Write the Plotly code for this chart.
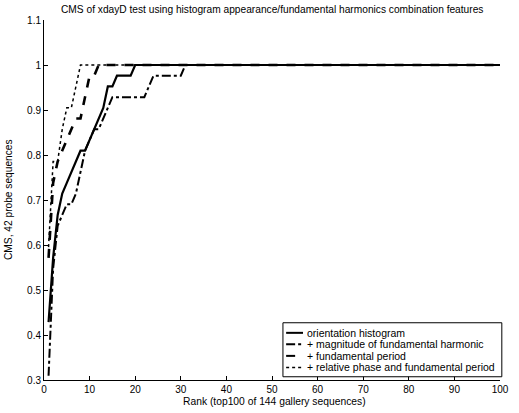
import plotly.graph_objects as go

# CMS values (42 probe sequences), ranks up to 100
n_probe = 42

rank_orient = list(range(1, 21)) + [100]
hits_orient = [18, 24, 28, 30, 31, 32, 33, 34, 34, 35, 36, 37, 38, 40, 40, 41, 41, 41, 41, 42, 42]

rank_mag = list(range(1, 32)) + [100]
hits_mag = [13, 23, 27, 28, 29, 29, 30, 32, 34, 35, 36, 36, 37, 38, 39, 39, 39, 39, 39, 39,
            39, 39, 40, 41, 41, 41, 41, 41, 41, 41, 42, 42]

rank_period = list(range(1, 13)) + [100]
hits_period = [24, 31, 33, 34, 35, 36, 37, 37, 39, 41, 41, 42, 42]

rank_phase = list(range(1, 9)) + [100]
hits_phase = [25, 33, 33, 36, 38, 38, 40, 42, 42]

x_ticks = list(range(0, 101, 10))
y_ticks = [0.3, 0.4, 0.5, 0.6, 0.7, 0.8, 0.9, 1.0, 1.1]
y_tick_text = ["0.3", "0.4", "0.5", "0.6", "0.7", "0.8", "0.9", "1", "1.1"]

series = [
    ("orientation histogram", rank_orient, hits_orient, "solid", 2.2),
    ("+ magnitude of fundamental harmonic", rank_mag, hits_mag, "dashdot", 2),
    ("+ fundamental period", rank_period, hits_period, "dash", 2.6),
    ("+ relative phase and fundamental period", rank_phase, hits_phase, "dot", 1.5),
]

font = "Liberation Sans, Arial, sans-serif"

fig = go.Figure()
for name, xs, hits, dash, width in series:
    fig.add_trace(go.Scatter(
        x=xs, y=[h / n_probe for h in hits], name=name, mode="lines",
        line=dict(color="black", dash=dash, width=width), showlegend=False,
    ))

# matlab-like legend box drawn by hand (plotly's rows are too tall)
shapes = [dict(type="rect", xref="paper", yref="paper", x0=0.524, x1=1.004, y0=0.009, y1=0.159,
               line=dict(color="black", width=1), fillcolor="white", layer="above")]
annotations = []
row_y = [0.131, 0.099, 0.067, 0.035]
for (name, xs, hits, dash, width), ry in zip(series, row_y):
    shapes.append(dict(type="line", xref="paper", yref="paper", x0=0.531, x1=0.568, y0=ry, y1=ry,
                       line=dict(color="black", dash=dash, width=min(width, 2)), layer="above"))
    annotations.append(dict(text=name, x=0.573, y=ry, xref="paper", yref="paper",
                            xanchor="left", yanchor="middle", showarrow=False,
                            font=dict(size=10.5)))

annotations += [
    dict(text="CMS of xdayD test using histogram appearance/fundamental harmonics combination features",
         x=0.5, y=1, xref="paper", yref="paper", xanchor="center", yanchor="bottom",
         yshift=3, showarrow=False, font=dict(size=10.2)),
    dict(text="CMS, 42 probe sequences", x=0, y=0.5, xref="paper", yref="paper",
         xanchor="center", yanchor="middle", xshift=-36, textangle=-90,
         showarrow=False, font=dict(size=10.2)),
    dict(text="Rank (top100 of 144 gallery sequences)", x=0.505, y=0, xref="paper", yref="paper",
         xanchor="center", yanchor="middle", yshift=-21.5, showarrow=False, font=dict(size=10.3)),
]

fig.update_layout(
    width=519, height=413,
    margin=dict(l=44, r=19, t=20, b=33),
    paper_bgcolor="white", plot_bgcolor="white",
    font=dict(family=font, size=10, color="black"),
    showlegend=False,
    shapes=shapes,
    annotations=annotations,
)
fig.update_xaxes(
    range=[0, 100], tickvals=x_ticks, ticks="inside", ticklen=4, tickcolor="black",
    showline=True, linecolor="black", linewidth=1, showgrid=False, zeroline=False,
    automargin=False, tickfont=dict(size=10),
)
fig.update_yaxes(
    range=[0.3, 1.1], tickvals=y_ticks, ticktext=y_tick_text, ticks="inside", ticklen=4,
    tickcolor="black", showline=True, linecolor="black", linewidth=1, showgrid=False,
    zeroline=False, automargin=False, tickfont=dict(size=10),
)

# drop the default page margin so the figure sits at the window's corner
fig.write_html("out.html", config={"displayModeBar": False},
               post_script="document.body.style.margin = '0';")
